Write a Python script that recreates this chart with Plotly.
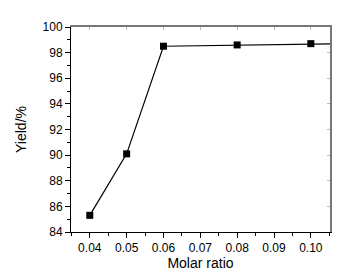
import plotly.graph_objects as go

molar_ratio = [0.04, 0.05, 0.06, 0.08, 0.10, 0.12]
yield_pct = [85.3, 90.1, 98.5, 98.6, 98.7, 98.75]
x_ticks = [0.04, 0.05, 0.06, 0.07, 0.08, 0.09, 0.10]
x_tick_text = ["0.04", "0.05", "0.06", "0.07", "0.08", "0.09", "0.10"]
y_ticks = [84, 86, 88, 90, 92, 94, 96, 98, 100]

font = dict(family="Liberation Sans, Arial, sans-serif", size=12, color="black")

fig = go.Figure()
fig.add_trace(go.Scatter(
    x=molar_ratio, y=yield_pct, mode="lines+markers",
    line=dict(color="black", width=1.2),
    marker=dict(symbol="square", size=7, color="black"),
    cliponaxis=True, showlegend=False,
))
# invisible trace on secondary axes to show gray top/right frame
fig.add_trace(go.Scatter(x=[None], y=[None], xaxis="x2", yaxis="y2", showlegend=False))

xr = [0.0349, 0.1052]
yr = [84, 100]
fig.update_layout(
    width=340, height=272,
    margin=dict(l=63, r=18, t=14, b=45),
    paper_bgcolor="white", plot_bgcolor="white",
    font=font,
    xaxis=dict(range=xr, tickvals=x_ticks, ticktext=x_tick_text, ticks="outside",
               ticklen=5, tickwidth=1, tickcolor="black", showline=True, linecolor="black",
               linewidth=1, showgrid=False, zeroline=False,
               minor=dict(dtick=0.005, tick0=0.04, ticks="outside", ticklen=3, tickcolor="black"),
               title=dict(text="Molar ratio", standoff=3), tickfont=font),
    yaxis=dict(range=yr, tickvals=y_ticks, ticks="outside", ticklen=5, tickwidth=1,
               tickcolor="black", showline=True, linecolor="black", linewidth=1,
               showgrid=False, zeroline=False,
               minor=dict(dtick=1, tick0=84, ticks="outside", ticklen=3, tickcolor="black"),
               title=dict(text="Yield/%", standoff=12), tickfont=font),
    xaxis2=dict(range=xr, overlaying="x", side="top", showline=True, linecolor="#777",
                linewidth=1.5, ticks="inside", ticklen=3, tickcolor="#bbb",
                tickvals=x_ticks, showticklabels=False, showgrid=False, zeroline=False),
    yaxis2=dict(range=yr, overlaying="y", side="right", showline=True, linecolor="#777",
                linewidth=1.5, ticks="inside", ticklen=3, tickcolor="#bbb",
                tickvals=y_ticks, showticklabels=False, showgrid=False, zeroline=False),
)
fig.write_html("out.html")
